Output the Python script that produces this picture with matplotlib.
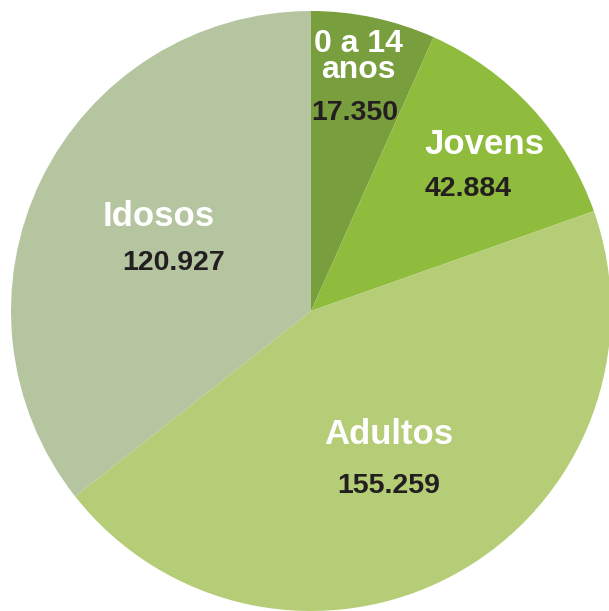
import matplotlib
matplotlib.use("Agg")
import matplotlib.pyplot as plt

# Age groups and counts shown on the chart
labels = ['0 a 14\nanos', 'Jovens', 'Adultos', 'Idosos']
counts = ['17.350', '42.884', '155.259', '120.927']
# slice sizes (percent) as drawn in the picture
shares = [6.7, 12.9, 44.8, 35.6]

colors = ['#789E3E', '#8FBC3C', '#B5CD76', '#B5C59F']

# text anchor positions in pixels (x, y from top): label, value
label_pos = [(358, 57), (484, 144), (389, 435), (159, 217)]
value_pos = [(355, 113), (468, 189), (389, 486), (174, 263)]

W, H = 609, 611
fig = plt.figure(figsize=(W / 100, H / 100), dpi=100)
ax = fig.add_axes([0, 0, 1, 1])

ax.pie(shares, colors=colors, startangle=90, counterclock=False,
       radius=300, center=(311, H - 311), frame=True,
       wedgeprops={'linewidth': 0})
ax.set_xlim(0, W)
ax.set_ylim(0, H)
ax.set_aspect('equal')
ax.axis('off')

for lab, (x, y) in zip(labels, label_pos):
    ax.text(x, H - y, lab, ha='center', va='center', color='white',
            fontsize=25 if '\n' not in lab else 23, fontweight='bold',
            family='Liberation Sans', linespacing=0.8)

for val, (x, y) in zip(counts, value_pos):
    ax.text(x, H - y, val, ha='center', va='center', color='#231F20',
            fontsize=20.5, fontweight='bold', family='Liberation Sans')

fig.savefig('out.png', dpi=100, facecolor='white')
